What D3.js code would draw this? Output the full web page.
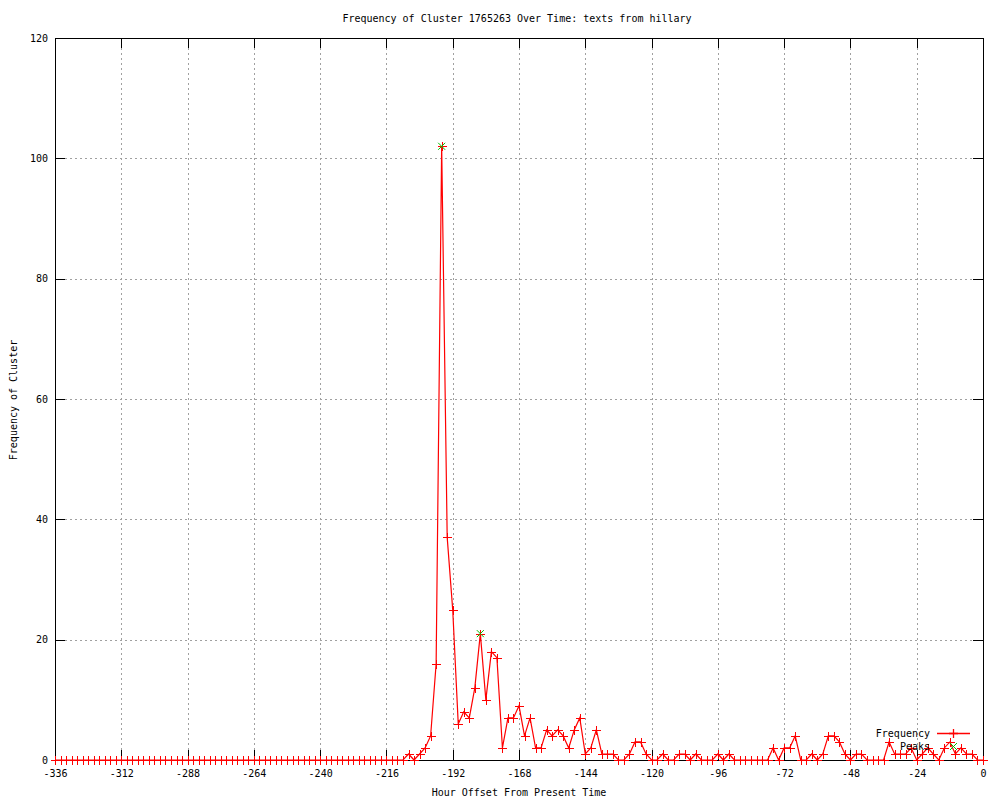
<!DOCTYPE html>
<html>
<head>
<meta charset="utf-8">
<script src="https://cdn.jsdelivr.net/npm/d3@7"></script>
<style>
  body { margin: 0; background: #fff; }
  svg { display: block; }
  text { font-family: "DejaVu Sans Mono", "Liberation Mono", monospace; font-size: 10px; fill: #000; }
</style>
</head>
<body>
<svg id="chart" width="1000" height="800"></svg>
<script>
// ---- data ----
const hours = d3.range(-336, 1, 2);
const frequency = [
  0,0,0,0,0,0,0,0,0,0, 0,0,0,0,0,0,0,0,0,0, 0,0,0,0,0,0,0,0,0,0,
  0,0,0,0,0,0,0,0,0,0, 0,0,0,0,0,0,0,0,0,0, 0,0,0,0,0,0,0,0,0,0,
  0,0,0,0,
  1,0,1,2,4,16,102,37,25,6,8,7,12,21,10,18,17,2,7,7,9,4,7,2,2,5,4,5,4,2,5,7,1,2,5,1,1,1,0,0,
  1,3,3,1,0,0,1,0,0,1,1,0,1,0,0,0,1,0,1,0,0,0,0,0,0,0,2,0,2,2,4,0,0,1,0,1,4,4,3,1,
  0,1,1,0,0,0,0,3,1,1,1,2,0,1,2,1,0,2,3,1,2,1,1,0,0
];
const peakHours = [-196, -182];
const peakValues = [102, 21];
const xTicks = [-336,-312,-288,-264,-240,-216,-192,-168,-144,-120,-96,-72,-48,-24,0];
const yTicks = [0,20,40,60,80,100,120];
const titleText = "Frequency of Cluster 1765263 Over Time: texts from hillary";
const xLabel = "Hour Offset From Present Time";
const yLabel = "Frequency of Cluster";
const legendLabels = ["Frequency", "Peaks"];

// ---- layout ----
const L = 55, R = 983, T = 38, B = 760;
const svg = d3.select("#chart");
const x = d3.scaleLinear().domain([-336, 0]).range([L, R]);
const y = d3.scaleLinear().domain([0, 120]).range([B, T]);

// grid
const grid = svg.append("g").attr("stroke", "#a0a0a0").attr("stroke-width", 1)
  .attr("stroke-dasharray", "2,3").attr("shape-rendering", "crispEdges");
xTicks.filter(d => d > -336 && d < 0).forEach(d => {
  grid.append("line").attr("x1", Math.round(x(d)) + 0.5).attr("x2", Math.round(x(d)) + 0.5)
    .attr("y1", T).attr("y2", B);
});
yTicks.filter(d => d > 0 && d < 120).forEach(d => {
  grid.append("line").attr("y1", Math.round(y(d)) + 0.5).attr("y2", Math.round(y(d)) + 0.5)
    .attr("x1", L).attr("x2", R);
});

// axes (ticks inward, mirrored)
const tickLen = 10;
const fmt = d => String(d);
const axB = svg.append("g").attr("transform", `translate(0,${B})`)
  .call(d3.axisBottom(x).tickValues(xTicks).tickSizeInner(-tickLen).tickSizeOuter(0).tickPadding(8).tickFormat(fmt));
const axT = svg.append("g").attr("transform", `translate(0,${T})`)
  .call(d3.axisTop(x).tickValues(xTicks).tickSizeInner(-tickLen).tickSizeOuter(0).tickFormat(""));
const axL = svg.append("g").attr("transform", `translate(${L},0)`)
  .call(d3.axisLeft(y).tickValues(yTicks).tickSizeInner(-tickLen).tickSizeOuter(0).tickPadding(7).tickFormat(fmt));
const axR = svg.append("g").attr("transform", `translate(${R},0)`)
  .call(d3.axisRight(y).tickValues(yTicks).tickSizeInner(-tickLen).tickSizeOuter(0).tickFormat(""));
[axB, axT, axL, axR].forEach(a => {
  a.select(".domain").remove();
  a.selectAll("line").attr("stroke", "#000").attr("shape-rendering", "crispEdges");
  a.selectAll("text").attr("font-family", "DejaVu Sans Mono").attr("font-size", 10).attr("fill", "#000");
});
axB.selectAll("text").attr("dy", "0.9em");

// border
svg.append("rect").attr("x", L + 0.5).attr("y", T + 0.5).attr("width", R - L).attr("height", B - T)
  .attr("fill", "none").attr("stroke", "#000").attr("stroke-width", 1).attr("shape-rendering", "crispEdges");

// line
const pts = hours.map((h, i) => [h, frequency[i]]);
svg.append("path").datum(pts)
  .attr("d", d3.line().x(d => x(d[0])).y(d => y(d[1])))
  .attr("fill", "none").attr("stroke", "#ff0000").attr("stroke-width", 1.2);

// plus markers
const ms = 4.5;
const plusPath = (cx, cy) => {
  cx = Math.round(cx) + 0.5; cy = Math.round(cy) + 0.5;
  return `M${cx - ms},${cy}H${cx + ms}M${cx},${cy - ms}V${cy + ms}`;
};
svg.append("g").selectAll("path").data(pts).join("path")
  .attr("d", d => plusPath(x(d[0]), y(d[1])))
  .attr("stroke", "#ff0000").attr("stroke-width", 1).attr("fill", "none")
  .attr("shape-rendering", "crispEdges");

// peaks (x markers)
const xs = 3.5;
const crossPath = (cx, cy) => `M${cx - xs},${cy - xs}L${cx + xs},${cy + xs}M${cx - xs},${cy + xs}L${cx + xs},${cy - xs}`;
svg.append("g").selectAll("path").data(peakHours.map((h, i) => [h, peakValues[i]])).join("path")
  .attr("d", d => crossPath(x(d[0]), y(d[1])))
  .attr("stroke", "#00c000").attr("stroke-width", 1).attr("fill", "none");

// legend
const lx = 930, ly1 = 733, ly2 = 746;
const leg = svg.append("g");
leg.append("text").attr("x", lx).attr("y", ly1 + 4).attr("text-anchor", "end").text(legendLabels[0]);
leg.append("text").attr("x", lx).attr("y", ly2 + 4).attr("text-anchor", "end").text(legendLabels[1]);
leg.append("path").attr("d", `M937,${ly1 + 0.5}H970`)
  .style("stroke", "#ff0000").style("stroke-width", "1.3px").style("fill", "none");
leg.append("path").attr("d", plusPath(953, ly1))
  .style("stroke", "#ff0000").style("stroke-width", "1.3px").style("fill", "none");
leg.append("path").attr("d", crossPath(953.5, ly2 + 0.5))
  .style("stroke", "#00c000").style("stroke-width", "1px").style("fill", "none");

// titles
svg.append("text").attr("x", 517).attr("y", 22).attr("text-anchor", "middle").text(titleText);
svg.append("text").attr("x", 519).attr("y", 796).attr("text-anchor", "middle").text(xLabel);
svg.append("text").attr("transform", "translate(17,400) rotate(-90)").attr("text-anchor", "middle").text(yLabel);
</script>
</body>
</html>
